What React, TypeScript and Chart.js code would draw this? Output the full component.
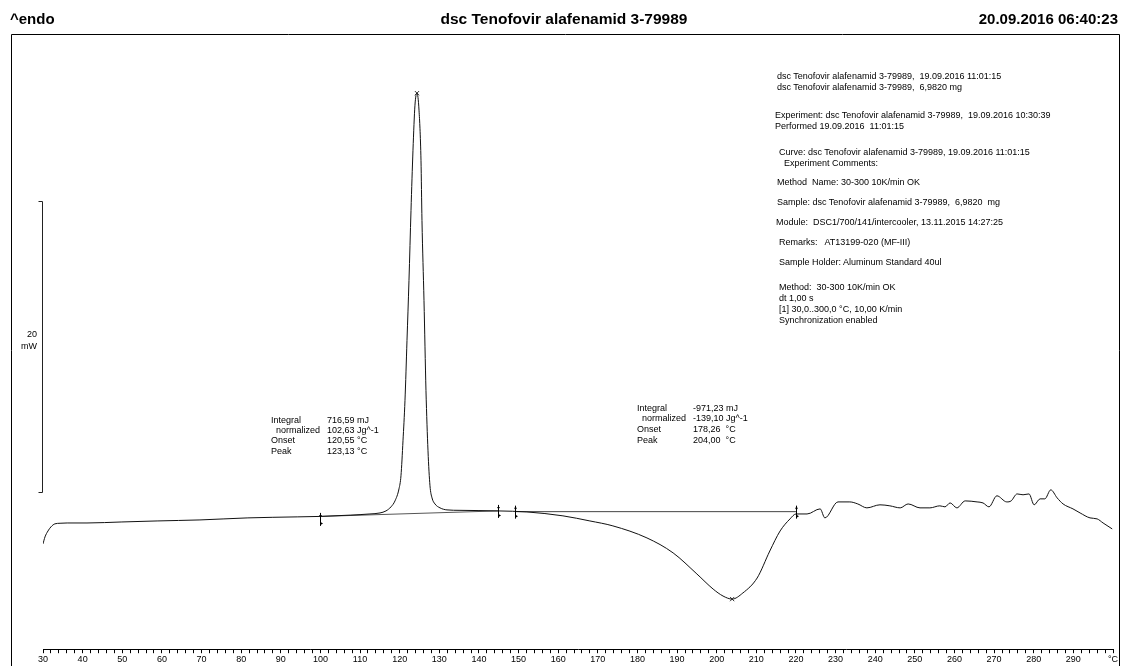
import React, { useEffect, useRef } from "react";
import { Chart, registerables } from "chart.js";

Chart.register(...registerables);

// ---- data ----
const temperatureC = [
  30.0, 30.5, 31.26, 32.0, 33.0, 34.3, 36.1, 41.1, 49.9, 58.8, 69.6, 81.7, 94.3, 99.9, 107.5, 112.5,
  115.04, 116.55, 117.81, 118.82, 119.83, 120.33, 120.84, 121.34, 121.85, 122.35, 122.86, 123.36, 123.86,
  124.37, 124.88, 125.38, 125.63, 126.14, 126.64, 127.15, 127.65, 128.16, 128.91, 130.18, 131.94, 135.22,
  144.8, 152.1, 161.2, 168.0, 173.8, 182.4, 189.0, 195.0, 199.1, 201.6, 203.9, 206.6, 210.2, 213.4, 216.0,
  218.5, 220.0, 222.8, 226.1, 227.3, 230.6, 233.6, 235.6, 237.9, 241.2, 243.7, 246.3, 248.3, 251.3, 253.8,
  256.3, 257.6, 258.9, 260.6, 262.7, 265.7, 267.2, 268.7, 270.7, 273.2, 274.3, 275.8, 277.3, 278.8, 280.1,
  281.6, 282.8, 284.3, 285.9, 287.4, 289.9, 291.7, 294.2, 296.0, 297.5, 299.8,
];
const heatFlowMW = [
  -1.72, -1.24, -0.83, -0.55, -0.34, -0.3, -0.28, -0.28, -0.21, -0.14, -0.07, 0.07, 0.14, 0.17, 0.26, 0.34,
  0.41, 0.55, 0.83, 1.24, 2.07, 2.97, 5.38, 8.14, 12.28, 16.41, 21.24, 25.38, 28.48,
  29.31, 28.14, 24.69, 20.55, 15.03, 8.83, 4.69, 2.28, 1.45, 1.03, 0.76, 0.62, 0.59,
  0.55, 0.48, 0.21, -0.14, -0.48, -1.31, -2.34, -3.79, -4.83, -5.31, -5.52, -5.1, -4.07, -2.21, -0.83,
  0.0, 0.34, 0.34, 0.69, 0.07, 1.17, 1.17, 1.03, 0.76, 0.97, 0.9, 0.76, 1.03, 0.76, 0.76,
  0.9, 0.83, 1.1, 0.76, 1.24, 1.17, 1.1, 0.83, 1.59, 1.17, 1.24, 1.72, 1.66, 1.72, 0.97,
  1.38, 1.38, 2.0, 1.45, 1.03, 0.69, 0.41, 0.07, 0.0, -0.28, -0.69,
];
const peakTemperatureC = [124.37, 203.9];
const peakHeatFlowMW = [29.31, -5.52];
const baseline1C = [99.9, 144.8];
const baseline1MW = [0.17, 0.55];
const baseline2C = [149.1, 220.0];
const baseline2MW = [0.5, 0.5];
const limitTemperatureC = [99.9, 144.8, 149.1, 220.0];
const limitHeatFlowMW = [0.0, 0.55, 0.5, 0.5];
const xTickValues = [30, 40, 50, 60, 70, 80, 90, 100, 110, 120, 130, 140, 150, 160, 170, 180, 190, 200, 210, 220, 230, 240, 250, 260, 270, 280, 290];
const xUnitLabel = "°C";
const scaleBarMW = 20;
const scaleBarFromMW = 1.86;

const headerLeft = "^endo";
const headerTitle = "dsc Tenofovir alafenamid 3-79989";
const headerDate = "20.09.2016 06:40:23";

const peak1Labels = ["Integral", "  normalized", "Onset", "Peak"];
const peak1Values = ["716,59 mJ", "102,63 Jg^-1", "120,55 °C", "123,13 °C"];
const peak2Labels = ["Integral", "  normalized", "Onset", "Peak"];
const peak2Values = ["-971,23 mJ", "-139,10 Jg^-1", "178,26  °C", "204,00  °C"];

const infoLines = [
  "dsc Tenofovir alafenamid 3-79989,  19.09.2016 11:01:15",
  "dsc Tenofovir alafenamid 3-79989,  6,9820 mg",
  "Experiment: dsc Tenofovir alafenamid 3-79989,  19.09.2016 10:30:39",
  "Performed 19.09.2016  11:01:15",
  "Curve: dsc Tenofovir alafenamid 3-79989, 19.09.2016 11:01:15",
  "Experiment Comments:",
  "Method  Name: 30-300 10K/min OK",
  "Sample: dsc Tenofovir alafenamid 3-79989,  6,9820  mg",
  "Module:  DSC1/700/141/intercooler, 13.11.2015 14:27:25",
  "Remarks:   AT13199-020 (MF-III)",
  "Sample Holder: Aluminum Standard 40ul",
  "Method:  30-300 10K/min OK",
  "dt 1,00 s",
  "[1] 30,0..300,0 °C, 10,00 K/min",
  "Synchronization enabled",
];
// layout of the info block (left x, centre y)
const infoPos: [number, number][] = [
  [777, 76], [777, 87], [775, 115], [775, 126], [779, 152], [784, 163], [777, 182], [777, 202],
  [776, 222], [779, 242], [779, 262], [779, 287], [779, 298], [779, 309], [779, 320],
];

const smallFont = '"Liberation Sans", Arial, sans-serif';

const overlayPlugin = {
  id: "dscOverlay",
  afterDraw(chart: any) {
    const ctx = chart.ctx;
    const xs = chart.scales.x;
    const ys = chart.scales.y;
    ctx.save();
    // frame
    ctx.strokeStyle = "#000";
    ctx.lineWidth = 1;
    ctx.beginPath();
    ctx.moveTo(11.5, 666);
    ctx.lineTo(11.5, 34.5);
    ctx.lineTo(1119.5, 34.5);
    ctx.lineTo(1119.5, 666);
    ctx.stroke();
    // scale bar
    const bx = Math.round(xs.getPixelForValue(30)) - 0.5;
    const yTop = Math.round(ys.getPixelForValue(scaleBarFromMW + scaleBarMW)) + 0.5;
    const yBot = Math.round(ys.getPixelForValue(scaleBarFromMW)) + 0.5;
    ctx.strokeStyle = "#222";
    ctx.beginPath();
    ctx.moveTo(bx - 4, yTop);
    ctx.lineTo(bx, yTop);
    ctx.lineTo(bx, yBot);
    ctx.lineTo(bx - 4, yBot);
    ctx.stroke();
    // integration limits
    ctx.fillStyle = "#000";
    ctx.strokeStyle = "#000";
    limitTemperatureC.forEach((t, i) => {
      const px = Math.round(xs.getPixelForValue(t)) + 0.5;
      const py = ys.getPixelForValue(limitHeatFlowMW[i]);
      ctx.beginPath();
      ctx.moveTo(px, py - 6);
      ctx.lineTo(px, py + 7);
      ctx.stroke();
      ctx.beginPath();
      ctx.moveTo(px - 1.5, py - 4);
      ctx.lineTo(px + 1.5, py - 4);
      ctx.lineTo(px, py - 1.5);
      ctx.closePath();
      ctx.fill();
      ctx.beginPath();
      ctx.moveTo(px, py + 3);
      ctx.lineTo(px + 2.5, py + 4.5);
      ctx.lineTo(px, py + 6);
      ctx.closePath();
      ctx.fill();
    });
    ctx.restore();
  },
};

export default function App() {
  const canvasRef = useRef<HTMLCanvasElement | null>(null);

  useEffect(() => {
    if (!canvasRef.current) return;
    const curve = temperatureC.map((t, i) => ({ x: t, y: heatFlowMW[i] }));
    const peaks = peakTemperatureC.map((t, i) => ({ x: t, y: peakHeatFlowMW[i] }));
    const b1 = baseline1C.map((t, i) => ({ x: t, y: baseline1MW[i] }));
    const b2 = baseline2C.map((t, i) => ({ x: t, y: baseline2MW[i] }));
    const chart = new Chart(canvasRef.current, {
      type: "line",
      data: {
        datasets: [
          {
            data: curve,
            borderColor: "#111",
            borderWidth: 1,
            pointRadius: 0,
            cubicInterpolationMode: "monotone",
          },
          { data: b1, borderColor: "#555", borderWidth: 1, pointRadius: 0 },
          { data: b2, borderColor: "#444", borderWidth: 1, pointRadius: 0 },
          {
            data: peaks,
            showLine: false,
            pointStyle: "crossRot",
            pointRadius: 3,
            borderColor: "#333",
            borderWidth: 1,
          },
        ],
      } as any,
      options: {
        animation: false,
        responsive: false,
        devicePixelRatio: 1,
        layout: { padding: { left: 43, right: 9, top: 40, bottom: 0 } },
        plugins: { legend: { display: false }, tooltip: { enabled: false } },
        scales: {
          x: {
            type: "linear",
            min: 30,
            max: 300,
            border: { display: true, color: "#000", width: 1 },
            grid: { drawOnChartArea: false, drawTicks: true, tickLength: 4, tickColor: "#000" },
            ticks: {
              stepSize: 2,
              autoSkip: false,
              maxRotation: 0,
              padding: 1,
              color: "#000",
              font: { family: smallFont, size: 9 },
              callback: (v: any) => {
                const n = Number(v);
                if (n === 300) return xUnitLabel;
                return xTickValues.includes(n) ? String(n) : "";
              },
            },
          },
          y: { type: "linear", display: false, min: -8.97, max: 32.97 },
        },
      } as any,
      plugins: [overlayPlugin],
    });
    return () => chart.destroy();
  }, []);

  const small: React.CSSProperties = {
    position: "absolute",
    fontFamily: smallFont,
    fontSize: 9,
    lineHeight: "11px",
    whiteSpace: "pre",
    color: "#000",
  };
  const head: React.CSSProperties = {
    position: "absolute",
    top: 10,
    fontFamily: smallFont,
    fontWeight: "bold",
    fontSize: 15,
    lineHeight: "18px",
    whiteSpace: "pre",
    color: "#000",
  };

  return (
    <div style={{ position: "absolute", left: 0, top: 0, width: 1122, height: 666, background: "#fff", overflow: "hidden" }}>
      <canvas ref={canvasRef} width={1122} height={666} style={{ position: "absolute", left: 0, top: 0 }} />
      <div style={{ ...head, left: 10 }}>{headerLeft}</div>
      <div style={{ ...head, left: 0, width: 1128, textAlign: "center", fontSize: 15.5 }}>{headerTitle}</div>
      <div style={{ ...head, right: 4 }}>{headerDate}</div>

      <div style={{ ...small, left: 0, width: 37, textAlign: "right", top: 329 }}>20</div>
      <div style={{ ...small, left: 0, width: 37, textAlign: "right", top: 341 }}>mW</div>

      {peak1Labels.map((l, i) => (
        <div key={"p1l" + i} style={{ ...small, left: 271, top: 414.5 + i * 10.4 }}>{l}</div>
      ))}
      {peak1Values.map((v, i) => (
        <div key={"p1v" + i} style={{ ...small, left: 327, top: 414.5 + i * 10.4 }}>{v}</div>
      ))}
      {peak2Labels.map((l, i) => (
        <div key={"p2l" + i} style={{ ...small, left: 637, top: 402.5 + i * 10.8 }}>{l}</div>
      ))}
      {peak2Values.map((v, i) => (
        <div key={"p2v" + i} style={{ ...small, left: 693, top: 402.5 + i * 10.8 }}>{v}</div>
      ))}

      {infoLines.map((t, i) => (
        <div key={"info" + i} style={{ ...small, left: infoPos[i][0], top: infoPos[i][1] - 5.5 }}>{t}</div>
      ))}
    </div>
  );
}
